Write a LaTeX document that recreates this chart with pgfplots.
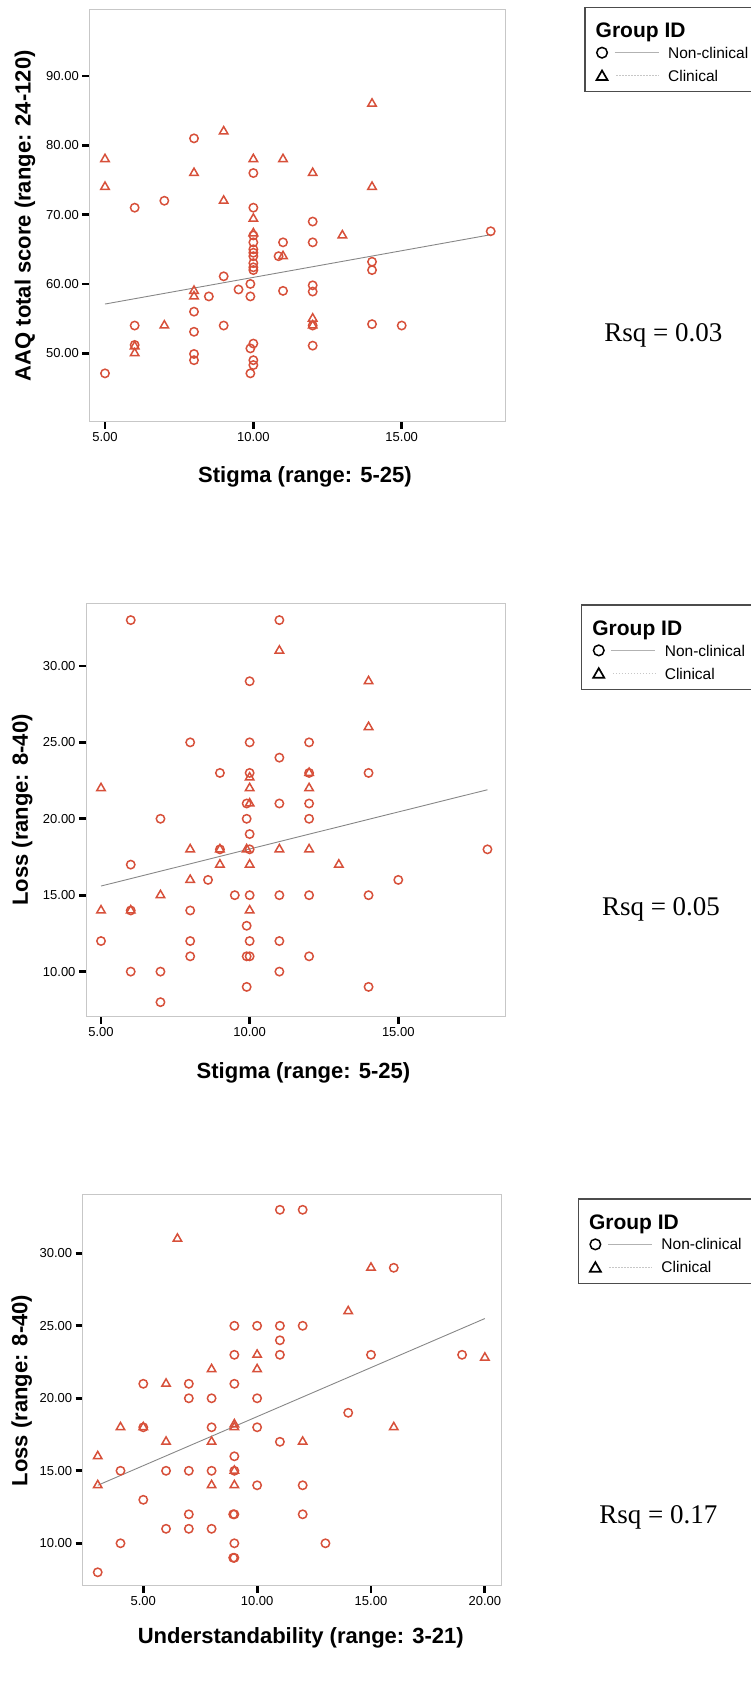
\documentclass[border=0pt]{standalone}
\usepackage{fontspec}
\setmainfont{Liberation Sans}
\newfontfamily\timesfont{Liberation Serif}
\usepackage{pgfplots}
\pgfplotsset{compat=1.18}
\definecolor{mk}{RGB}{215,80,58}
\definecolor{fitc}{RGB}{135,135,135}
\pgfplotsset{
  spss/.style={
    scale only axis,
    clip=false,
    axis line style={black!22, line width=1pt},
    tick align=outside,
    xtick pos=left, ytick pos=left,
    major tick length=7pt,
    every tick/.style={black, line width=2.8pt},
    every major tick/.append style={black, line width=2.8pt},
    xtick style={black, line width=2.8pt},
    ytick style={black, line width=2.8pt},
    minor tick num=0,
    tick label style={font=\fontsize{13}{13}\selectfont},
    /pgf/number format/assume math mode=true,
    xticklabel style={/pgf/number format/fixed, /pgf/number format/fixed zerofill, /pgf/number format/precision=2},
    yticklabel style={/pgf/number format/fixed, /pgf/number format/fixed zerofill, /pgf/number format/precision=2},
    label style={font=\bfseries\fontsize{22}{24}\selectfont},
    legend style={draw=none, fill=none, inner sep=0pt, outer sep=0pt, row sep=0pt, column sep=0pt,
      nodes={inner sep=0pt, outer sep=0pt, text depth=0pt},
      font=\fontsize{15.5}{16}\selectfont, anchor=north west},
    legend cell align=left,
  },
  nc/.style={only marks, mark=o, mark size=4.2pt, mark options={draw=mk, line width=1.5pt}, forget plot},
  cl/.style={only marks, mark=triangle, mark size=4.9pt, mark options={draw=mk, line width=1.5pt}, forget plot},
  fit/.style={fitc, line width=0.9pt, forget plot},
  ncleg/.style={legend image code/.code={
    \draw[black, line width=1.5pt, fill=none] (0pt,0pt) circle (5.3pt);
    \draw[black!30, line width=0.9pt] (12.6pt,0pt) -- (56.6pt,0pt);
    \path[draw=none, fill=none] (-6pt,-11.5pt) rectangle (66.1pt,11.5pt);}},
  clleg/.style={legend image code/.code={
    \draw[black, line width=1.7pt, line join=miter, fill=none] (-5.5pt,-4.3pt) -- (5.5pt,-4.3pt) -- (0pt,5.2pt) -- cycle;
    \draw[black!22, line width=0.9pt, dash pattern=on 1.5pt off 1.5pt] (14pt,0pt) -- (56.6pt,0pt);
    \path[draw=none, fill=none] (-6pt,-11.5pt) rectangle (66.1pt,11.5pt);}},
}
\begin{document}
\begin{tikzpicture}
% ---------------- Panel 1 ----------------
\begin{axis}[spss,
  at={(89.3pt,1672pt)}, anchor=north west,
  width=416.4pt, height=411.7pt,
  xmin=4.471, xmax=18.505, ymin=40.13, ymax=99.52,
  xtick={5,10,15}, ytick={50,60,70,80,90},
  xlabel={Stigma (range: 5-25)},
  ylabel={AAQ total score (range: 24-120)},
  xlabel style={at={(axis description cs:0.518,-0.1336)}, anchor=center},
  ylabel style={at={(axis description cs:-0.1544,0.5)}, anchor=center},
  legend style={at={(axis description cs:1.2161,0.9242)}},
]
\addplot[fit] coordinates {(5,57.1) (18,67.1)};
\addplot[nc] coordinates {
(8,81) (10,76) (7,72) (6,71) (10,71) (12,69) (11,66) (12,66)
(10,67) (10,66) (10,65) (10,64.5) (10,64) (10,63) (10,62.4) (10,62) (10.85,64)
(14,63.2) (14,62) (9,61.1) (9.9,60) (12,59.8) (12,58.9) (11,59) (9.5,59.2) (9.9,58.2) (8.5,58.2)
(8,56) (6,54) (9,54) (8,53.1) (14,54.2) (15,54) (12,54) (12,51.1) (6,51.2) (8,49.9) (8,49)
(10,51.4) (9.9,50.7) (10,49) (10,48.3) (9.9,47.1) (5,47.1) (18,67.6)
};
\addplot[cl] coordinates {
(14,86) (9,82) (5,78) (10,78) (11,78) (8,76) (12,76) (5,74) (14,74) (9,72)
(10,69.4) (13,67) (10,67.3) (11,64) (8,59) (8,58.2) (7,54) (12,55) (12,54) (6,51) (6,50)
};
\addlegendimage{ncleg}\addlegendentry{Non-clinical}
\addlegendimage{clleg}\addlegendentry{Clinical}
\end{axis}
% ---------------- Panel 2 ----------------
\begin{axis}[spss,
  at={(86pt,1078.7pt)}, anchor=north west,
  width=419pt, height=413.4pt,
  xmin=4.495, xmax=18.59, ymin=7.05, ymax=34.1,
  xtick={5,10,15}, ytick={10,15,20,25,30},
  xlabel={Stigma (range: 5-25)},
  ylabel={Loss (range: 8-40)},
  xlabel style={at={(axis description cs:0.519,-0.136)}, anchor=center},
  ylabel style={at={(axis description cs:-0.152,0.5)}, anchor=center},
  legend style={at={(axis description cs:1.2086,0.9139)}},
]
\addplot[fit] coordinates {(5,15.6) (18,21.9)};
\addplot[nc] coordinates {
(6,33) (11,33) (10,29) (8,25) (10,25) (12,25) (11,24) (9,23) (14,23) (10,23)
(9.9,21) (9.9,20) (10,19) (10,18) (9.5,15) (10,15) (9.9,13) (10,12) (9.9,11) (10,11) (9.9,9)
(12,23) (12,21) (12,20) (12,15) (12,11) (11,21) (11,15) (11,12) (11,10)
(7,20) (8.6,16) (9,18) (6,17) (6,14) (5,12) (8,14) (8,12) (8,11) (6,10) (7,10) (7,8)
(14,15) (14,9) (15,16) (18,18)
};
\addplot[cl] coordinates {
(11,31) (14,29) (14,26) (10,22.7) (10,22) (10,21) (9.9,18) (10,17) (10,14)
(12,23) (12,22) (12,18) (11,18) (5,22) (8,18) (8,16) (9,18) (9,17) (7,15) (5,14) (6,14) (13,17)
};
\addlegendimage{ncleg}\addlegendentry{Non-clinical}
\addlegendimage{clleg}\addlegendentry{Clinical}
\end{axis}
% ---------------- Panel 3 ----------------
\begin{axis}[spss,
  at={(82.7pt,487pt)}, anchor=north west,
  width=419pt, height=391pt,
  xmin=2.34, xmax=20.74, ymin=7.055, ymax=34.02,
  xtick={5,10,15,20}, ytick={10,15,20,25,30},
  xlabel={Understandability (range: 3-21)},
  ylabel={Loss (range: 8-40)},
  xlabel style={at={(axis description cs:0.5205,-0.1338)}, anchor=center},
  ylabel style={at={(axis description cs:-0.1456,0.5)}, anchor=center},
  legend style={at={(axis description cs:1.2084,0.9031)}},
]
\addplot[fit] coordinates {(3,14.0) (20,25.5)};
\addplot[nc] coordinates {
(11,33) (12,33) (16,29) (9,25) (10,25) (11,25) (12,25) (11,24) (9,23) (11,23) (15,23)
(5,21) (7,21) (9,21) (7,20) (8,20) (10,20) (14,19) (5,18) (8,18) (10,18) (11,17) (9,16)
(4,15) (6,15) (7,15) (8,15) (9,15) (10,14) (12,14) (5,13) (7,12) (9,12) (8.95,12) (12,12)
(6,11) (7,11) (8,11) (4,10) (9,10) (13,10) (9,9) (8.95,9) (3,8) (19,23)
};
\addplot[cl] coordinates {
(6.5,31) (15,29) (14,26) (10,23) (8,22) (10,22) (6,21) (4,18) (5,18) (9,18.2) (9,18)
(16,18) (6,17) (8,17) (12,17) (3,16) (9,15) (3,14) (8,14) (9,14) (20,22.8)
};
\addlegendimage{ncleg}\addlegendentry{Non-clinical}
\addlegendimage{clleg}\addlegendentry{Clinical}
\end{axis}
% ---------------- Legend frames, titles, Rsq ----------------
\draw[black!70, line width=1.2pt] (585pt,1674.7pt) rectangle (775pt,1590.5pt);
\draw[black!70, line width=1.2pt] (581.7pt,1077pt) rectangle (775pt,992.8pt);
\draw[black!70, line width=1.2pt] (578.3pt,483pt) rectangle (775pt,398.8pt);
\node[anchor=base west, inner sep=0pt, font=\bfseries\fontsize{21}{22}\selectfont] at (595.5pt,1644.2pt) {Group ID};
\node[anchor=base west, inner sep=0pt, font=\bfseries\fontsize{21}{22}\selectfont] at (592.2pt,1046.5pt) {Group ID};
\node[anchor=base west, inner sep=0pt, font=\bfseries\fontsize{21}{22}\selectfont] at (588.8pt,452.5pt) {Group ID};
\node[anchor=base, inner sep=0pt, font=\timesfont\fontsize{27}{28}\selectfont] at (663.3pt,1340.3pt) {Rsq = 0.03};
\node[anchor=base, inner sep=0pt, font=\timesfont\fontsize{27}{28}\selectfont] at (661pt,766pt) {Rsq = 0.05};
\node[anchor=base, inner sep=0pt, font=\timesfont\fontsize{27}{28}\selectfont] at (658.3pt,158.7pt) {Rsq = 0.17};
\pgfresetboundingbox
\useasboundingbox (0pt,0pt) rectangle (750pt,1682pt);
\end{tikzpicture}
\end{document}
